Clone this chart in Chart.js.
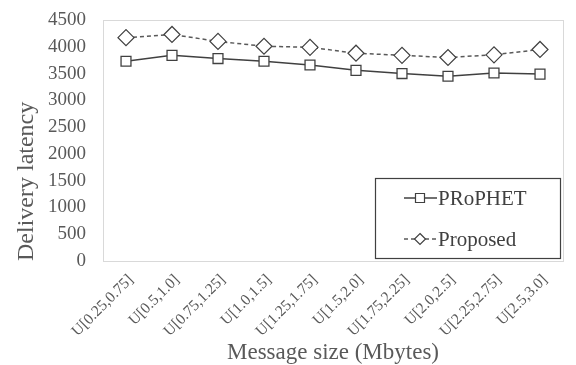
<!DOCTYPE html>
<html>
<head>
<meta charset="utf-8">
<script src="https://cdn.jsdelivr.net/npm/chart.js@4"></script>
<style>
html,body{margin:0;padding:0;background:#fff;}
#wrap{width:576px;height:365px;position:relative;}
</style>
</head>
<body>
<div id="wrap"><canvas id="c"></canvas></div>
<script>
const categories = ["U[0.25,0.75]","U[0.5,1.0]","U[0.75,1.25]","U[1.0,1.5]","U[1.25,1.75]","U[1.5,2.0]","U[1.75,2.25]","U[2.0,2.5]","U[2.25,2.75]","U[2.5,3.0]"];
const prophet = [3730, 3840, 3780, 3730, 3660, 3560, 3500, 3450, 3510, 3490];
const proposed = [4170, 4230, 4100, 4010, 3990, 3880, 3840, 3800, 3850, 3950];
const seriesNames = ["PRoPHET", "Proposed"];
const yTitle = "Delivery latency";
const xTitle = "Message size (Mbytes)";

const FONT = "'Liberation Serif', 'Times New Roman', serif";
const TXT = "#595959";
const LINE = "#404040";

const frameAndLegend = {
  id: 'frameAndLegend',
  afterDraw(chart) {
    const ctx = chart.ctx;
    const a = chart.chartArea;
    ctx.save();
    ctx.strokeStyle = '#d9d9d9';
    ctx.lineWidth = 1;
    ctx.strokeRect(Math.round(a.left) + 0.5, Math.round(a.top) + 0.5, Math.round(a.right - a.left), Math.round(a.bottom - a.top));
    // legend box
    const bx = 375.5, by = 178.5, bw = 185, bh = 80;
    ctx.fillStyle = '#fff';
    ctx.fillRect(bx, by, bw, bh);
    ctx.strokeStyle = LINE;
    ctx.lineWidth = 1.2;
    ctx.strokeRect(bx, by, bw, bh);
    const rows = [198, 239];
    chart.data.datasets.forEach((ds, i) => {
      const y = rows[i];
      ctx.strokeStyle = ds.borderColor;
      ctx.lineWidth = ds.borderWidth;
      ctx.setLineDash(ds.borderDash || []);
      ctx.beginPath();
      ctx.moveTo(404, y);
      ctx.lineTo(437, y);
      ctx.stroke();
      ctx.setLineDash([]);
      ctx.fillStyle = '#fff';
      ctx.strokeStyle = LINE;
      ctx.lineWidth = 1.2;
      ctx.beginPath();
      if (ds.pointStyle === 'rect') {
        ctx.rect(415.5, y - 4.5, 9, 9);
      } else {
        ctx.moveTo(420, y - 5.5);
        ctx.lineTo(425.5, y);
        ctx.lineTo(420, y + 5.5);
        ctx.lineTo(414.5, y);
        ctx.closePath();
      }
      ctx.fill();
      ctx.stroke();
      ctx.fillStyle = LINE;
      ctx.font = "21px " + FONT;
      ctx.textBaseline = 'middle';
      ctx.textAlign = 'left';
      ctx.fillText(ds.label, 438, y + 1);
    });
    ctx.restore();
  }
};

new Chart(document.getElementById('c'), {
  type: 'line',
  data: {
    labels: categories,
    datasets: [
      {
        label: seriesNames[0],
        data: prophet,
        borderColor: LINE,
        borderWidth: 1.5,
        pointStyle: 'rect',
        pointRadius: 7,
        pointHoverRadius: 7,
        pointBackgroundColor: '#fff',
        pointBorderColor: LINE,
        pointBorderWidth: 1.3,
        tension: 0
      },
      {
        label: seriesNames[1],
        data: proposed,
        borderColor: '#595959',
        borderWidth: 1.5,
        borderDash: [4, 3],
        pointStyle: 'rectRot',
        pointRadius: 8,
        pointHoverRadius: 8,
        pointBackgroundColor: '#fff',
        pointBorderColor: LINE,
        pointBorderWidth: 1.2,
        tension: 0
      }
    ]
  },
  options: {
    responsive: true,
    maintainAspectRatio: false,
    animation: false,
    events: [],
    layout: { padding: { left: 0, right: 13, top: 20, bottom: 0 } },
    plugins: {
      legend: { display: false },
      tooltip: { enabled: false }
    },
    scales: {
      x: {
        offset: true,
        grid: { display: false, drawTicks: false },
        border: { display: false },
        ticks: {
          color: TXT,
          font: { family: FONT, size: 15.5 },
          minRotation: 45,
          maxRotation: 45,
          padding: 10,
          labelOffset: 5,
          autoSkip: false
        },
        title: {
          display: true,
          text: xTitle,
          color: TXT,
          font: { family: FONT, size: 23, lineHeight: 1.05 },
          padding: { top: 0, bottom: 0 }
        },
        afterFit(s) { s.height = 104; }
      },
      y: {
        min: 0,
        max: 4500,
        grid: { display: false, drawTicks: true, tickLength: 14 },
        border: { display: false },
        ticks: {
          stepSize: 500,
          color: TXT,
          font: { family: FONT, size: 19 },
          padding: 3,
          callback: (v) => String(v)
        },
        title: {
          display: true,
          text: yTitle,
          align: 'start',
          color: TXT,
          font: { family: FONT, size: 24 },
          padding: { top: 12, bottom: 0 }
        },
        afterFit(s) { s.width = 103; }
      }
    }
  },
  plugins: [frameAndLegend]
});
</script>
</body>
</html>
